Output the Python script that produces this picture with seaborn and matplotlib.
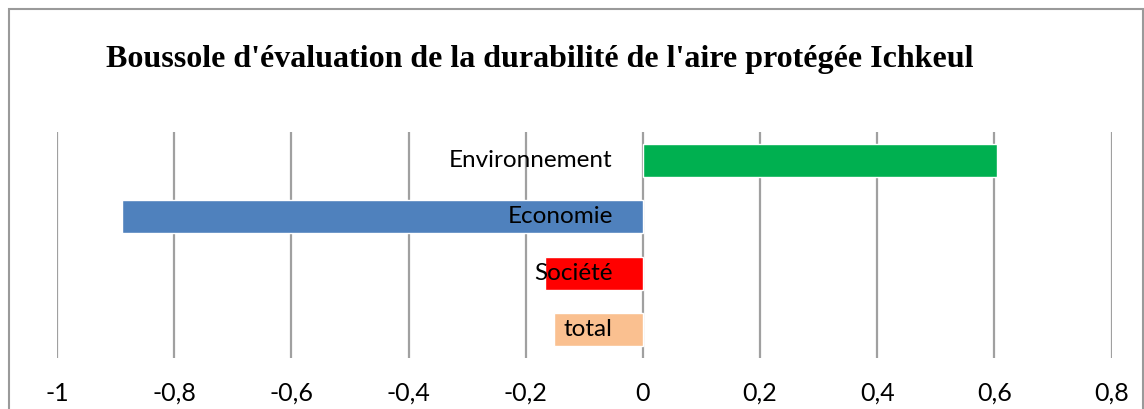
import matplotlib
matplotlib.use("Agg")
import matplotlib.pyplot as plt
import matplotlib.transforms as mtransforms
from matplotlib.patches import Rectangle
from matplotlib.ticker import FuncFormatter, MultipleLocator
import seaborn as sns
import pandas as pd

# Sustainability compass scores per dimension
categories = ["Environnement", "Economie", "Société", "total"]
scores = [0.605, -0.889, -0.167, -0.152]
colors = ["#00B050", "#4F81BD", "#FF0000", "#FAC090"]
title = "Boussole d'évaluation de la durabilité de l'aire protégée Ichkeul"

df = pd.DataFrame({"categorie": categories, "score": scores})

sns.set_theme(style="white")
plt.rcParams["font.family"] = ["Lato", "DejaVu Sans"]

fig = plt.figure(figsize=(11.44, 4.09), dpi=100)
ax = fig.add_axes([57 / 1144, 1 - 358 / 409, (1111.5 - 57) / 1144, (358 - 132) / 409])

sns.barplot(data=df, y="categorie", x="score", hue="categorie",
            palette=colors, orient="h", width=0.58, saturation=1,
            legend=False, ax=ax, zorder=3)

ax.set_xlim(-1, 0.8)
ax.set_ylim(3.5, -0.5)
ax.xaxis.set_major_locator(MultipleLocator(0.2))
ax.xaxis.set_major_formatter(FuncFormatter(
    lambda v, _: ("%g" % round(v, 1)).replace(".", ",")))
ax.grid(axis="x", color="#a0a0a0", linewidth=1.6, zorder=0)
ax.grid(axis="y", visible=False)
for s in ax.spines.values():
    s.set_visible(False)
ax.set_xlabel("")
ax.set_ylabel("")
ax.set_yticks([])
ax.tick_params(axis="x", length=0, pad=17, labelsize=18, labelcolor="black")

# Category names sit just left of the zero line
offset = mtransforms.ScaledTranslation(-30 / 100, 0, fig.dpi_scale_trans)
for i, name in enumerate(categories):
    ax.text(0, i, name, ha="right", va="center", fontsize=17.5, color="black",
            transform=ax.transData + offset, zorder=4)

fig.text(540 / 1144, 1 - 59 / 409, title, ha="center", va="center", color="black",
         fontsize=23, fontweight="bold", family=["Liberation Serif", "DejaVu Serif"])

# Chart frame
fig.patches.append(Rectangle((8.5 / 1144, -0.05), (1142.5 - 8.5) / 1144, 1 - 9 / 409 + 0.05,
                             transform=fig.transFigure, fill=False,
                             edgecolor="#9a9a9a", linewidth=1.5))

fig.savefig("out.png", dpi=100)
